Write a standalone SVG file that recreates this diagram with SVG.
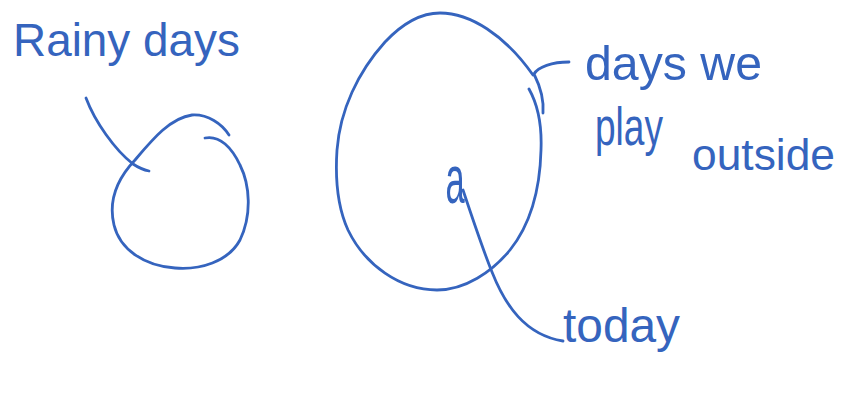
<svg xmlns="http://www.w3.org/2000/svg" width="844" height="396" viewBox="0 0 844 396">
  <style>
    .ink { fill: none; stroke: #3564be; stroke-width: 2.8; stroke-linecap: round; stroke-linejoin: round; }
    .hand { fill: #3564be; font-family: "Liberation Sans", "DejaVu Sans", sans-serif; }
  </style>
  <rect width="844" height="396" fill="#ffffff"/>
  <g id="rainy-days">
    <path class="ink" d="M205,138 C220,135 232,148 240,165 C250,185 252,215 240,240 C228,262 200,270 175,268 C145,266 120,250 114,225 C108,200 118,178 135,160 C152,140 170,118 192,115 C208,114 222,124 229,135"/>
    <text class="hand" x="13" y="56" font-size="46" textLength="227" lengthAdjust="spacingAndGlyphs">Rainy days</text>
  </g>
  <g id="days-we-play-outside">
    <path class="ink" d="M529,89 C538,105 542,125 541,150 C540,190 530,225 510,250 C492,272 465,290 437,290 C400,290 365,265 348,230 C338,208 335,180 337,150 C340,110 358,72 385,42 C402,24 420,13 440,13 C470,13 505,35 533,75"/>
    <text class="hand" x="585" y="80" font-size="48" textLength="177" lengthAdjust="spacingAndGlyphs">days we</text>
    <text class="hand" x="595" y="145" font-size="54" textLength="68" lengthAdjust="spacingAndGlyphs">play</text>
    <text class="hand" x="692" y="170" font-size="45" textLength="143" lengthAdjust="spacingAndGlyphs">outside</text>
  </g>
  <g id="today">
    <text class="hand" transform="translate(455,203) scale(0.75,1.5)" font-size="46" text-anchor="middle">a</text>
    <text class="hand" x="563" y="342" font-size="48" textLength="117" lengthAdjust="spacingAndGlyphs">today</text>
  </g>
  <g id="connectors">
    <path class="ink" d="M86,98 C95,122 115,150 133,164 C139,168 144,170 149,171"/>
    <path class="ink" d="M569,62 C552,62 538,67 534,74 C541,88 544,100 543,113"/>
    <path class="ink" d="M463,190 C473,220 483,250 492,272 C505,305 525,335 563,341"/>
  </g>
</svg>
